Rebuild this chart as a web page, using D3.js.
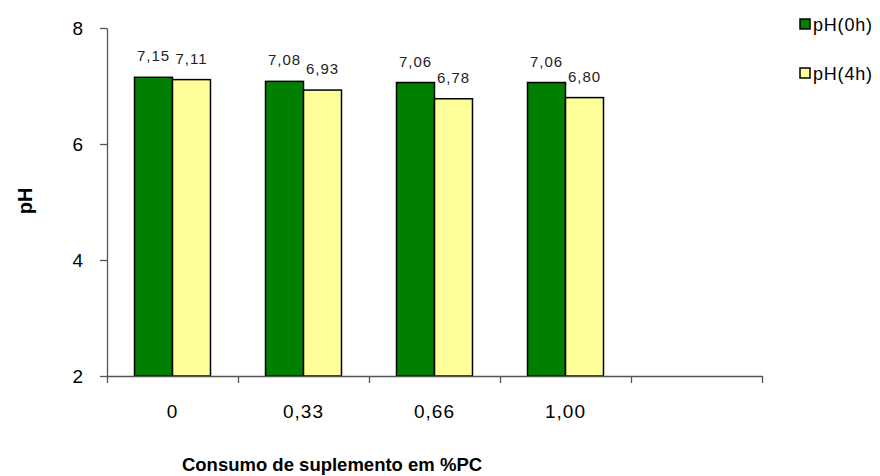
<!DOCTYPE html>
<html>
<head>
<meta charset="utf-8">
<script src="https://cdn.jsdelivr.net/npm/d3@7"></script>
<style>
  body { margin: 0; background: #fff; }
  svg { display: block; font-family: "Liberation Sans", Arial, sans-serif; }
</style>
</head>
<body>
<svg id="chart" width="880" height="476"></svg>
<script>
// Supplement intake levels (%PC); the last slot is left empty on the axis
const categories = ["0", "0,33", "0,66", "1,00", ""];
const seriesNames = ["pH(0h)", "pH(4h)"];
const ph0h = [7.15, 7.08, 7.06, 7.06];
const ph4h = [7.11, 6.93, 6.78, 6.80];
const valueLabels0h = ["7,15", "7,08", "7,06", "7,06"];
const valueLabels4h = ["7,11", "6,93", "6,78", "6,80"];
const yTicks = [2, 4, 6, 8];
const colors = ["#007f00", "#ffff99"];

const svg = d3.select("#chart");
const plotLeft = 107, plotRight = 762, plotTop = 28, plotBottom = 376;

const y = d3.scaleLinear().domain([2, 8]).range([plotBottom, plotTop]);
const x0 = d3.scaleBand().domain(categories).range([plotLeft, plotRight])
  .paddingInner(0.42).paddingOuter(0.21);
const x1 = d3.scaleBand().domain(seriesNames).range([0, x0.bandwidth()]);

const rows = ph0h.map((v, i) => ({
  cat: categories[i],
  values: [
    { key: seriesNames[0], v: v, label: valueLabels0h[i], color: colors[0] },
    { key: seriesNames[1], v: ph4h[i], label: valueLabels4h[i], color: colors[1] }
  ]
}));

// Bars
const groups = svg.append("g").selectAll("g").data(rows).join("g")
  .attr("transform", d => `translate(${x0(d.cat)},0)`);

groups.selectAll("rect").data(d => d.values).join("rect")
  .attr("x", d => x1(d.key))
  .attr("y", d => y(d.v))
  .attr("width", x1.bandwidth())
  .attr("height", d => y(2) - y(d.v))
  .attr("fill", d => d.color)
  .attr("stroke", "#000")
  .attr("stroke-width", 1.5);

groups.selectAll("text").data(d => d.values).join("text")
  .attr("x", d => x1(d.key) + x1.bandwidth() / 2)
  .attr("y", d => y(d.v) - 16)
  .attr("text-anchor", "middle")
  .attr("font-size", 15)
  .attr("letter-spacing", 1)
  .attr("fill", "#222")
  .text(d => d.label);

// Y axis
const yAxis = svg.append("g").attr("transform", `translate(${plotLeft},0)`)
  .call(d3.axisLeft(y).tickValues(yTicks).tickFormat(d3.format("d"))
    .tickSize(7).tickSizeOuter(0).tickPadding(17));
yAxis.selectAll("text").attr("font-size", 19).attr("fill", "#000")
  .style("font-family", "'Liberation Sans', Arial, sans-serif");

// X axis: tick marks on category boundaries, labels at band centres
const xb = d3.scaleLinear().domain([0, categories.length]).range([plotLeft, plotRight]);
svg.append("g").attr("transform", `translate(0,${plotBottom})`)
  .call(d3.axisBottom(xb).ticks(categories.length).tickSize(7).tickSizeOuter(0).tickFormat(""));

svg.selectAll(".domain, .tick line").attr("stroke", "#555").attr("stroke-width", 1.3);

svg.append("g").selectAll("text").data(categories).join("text")
  .attr("x", d => x0(d) + x0.bandwidth() / 2)
  .attr("y", 418)
  .attr("text-anchor", "middle")
  .attr("font-size", 19)
  .attr("letter-spacing", 1)
  .attr("fill", "#000")
  .text(d => d);

// Axis titles
svg.append("text")
  .attr("transform", "translate(32,201) rotate(-90)")
  .attr("text-anchor", "middle")
  .attr("font-size", 20)
  .attr("font-weight", "bold")
  .text("pH");

svg.append("text")
  .attr("x", 332).attr("y", 471)
  .attr("text-anchor", "middle")
  .attr("font-size", 18.5)
  .attr("font-weight", "bold")
  .text("Consumo de suplemento em %PC");

// Legend
const legend = svg.append("g").selectAll("g").data(seriesNames).join("g")
  .attr("transform", (d, i) => `translate(800,${19 + i * 49})`);
legend.append("rect")
  .attr("width", 10).attr("height", 10)
  .attr("fill", (d, i) => colors[i])
  .attr("stroke", "#000").attr("stroke-width", 1.5);
legend.append("text")
  .attr("x", 13).attr("y", 12)
  .attr("font-size", 18)
  .attr("letter-spacing", 0.8)
  .attr("fill", "#000")
  .text(d => d);
</script>
</body>
</html>
